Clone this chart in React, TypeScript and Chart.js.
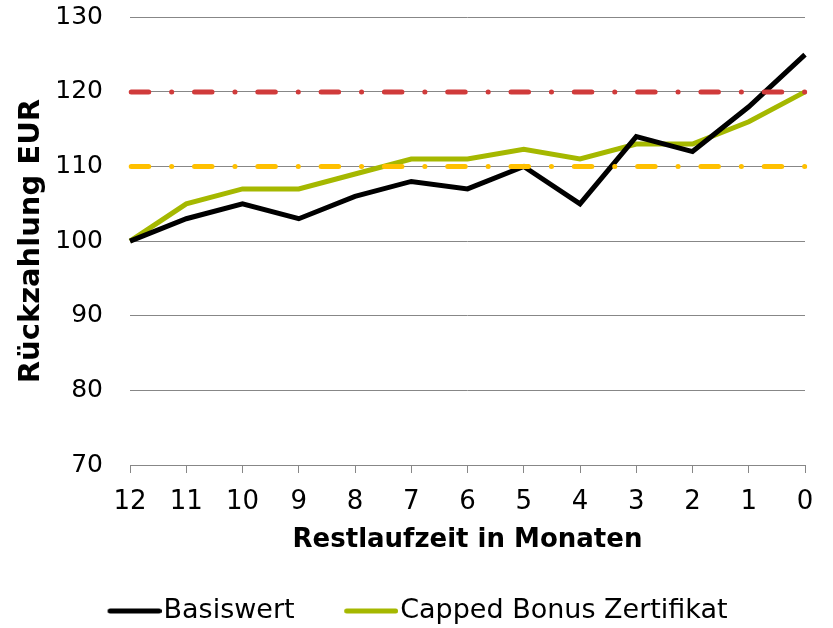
import React, { useEffect, useRef } from 'react';
import { Chart, registerables } from 'chart.js';

Chart.register(...registerables);

const categories = ['12', '11', '10', '9', '8', '7', '6', '5', '4', '3', '2', '1', '0'];
const basiswert = [100, 103, 105, 103, 106, 108, 107, 110, 105, 114, 112, 118, 125];
const bonusZertifikat = [100, 105, 107, 107, 109, 111, 111, 112.3, 111, 113, 113, 116, 120];
const capLevel = [120, 120, 120, 120, 120, 120, 120, 120, 120, 120, 120, 120, 120];
const barrierLevel = [110, 110, 110, 110, 110, 110, 110, 110, 110, 110, 110, 110, 110];
const yMin = 70;
const yMax = 130;
const yStep = 10;

const FONT = "'DejaVu Sans', Verdana, sans-serif";
const GRID = '#878787';
const SAMPLE_BOX = 57;

function makeSample(color: string): HTMLCanvasElement {
  const c = document.createElement('canvas');
  const w = SAMPLE_BOX + 23;
  c.width = w;
  c.height = 6;
  const ctx = c.getContext('2d')!;
  ctx.strokeStyle = color;
  ctx.lineWidth = 5;
  ctx.lineCap = 'round';
  ctx.beginPath();
  ctx.moveTo(w - 54 + 2.5, 3);
  ctx.lineTo(w - 2.5, 3);
  ctx.stroke();
  return c;
}

export default function App() {
  const ref = useRef<HTMLCanvasElement | null>(null);

  useEffect(() => {
    document.body.style.margin = '0';
    const canvas = ref.current;
    if (!canvas) return;
    const dashPattern = [17.5, 22.9, 0.1, 22.8];
    const samples: Record<string, HTMLCanvasElement> = {};
    const chart = new Chart(canvas, {
      type: 'line',
      data: {
        labels: categories,
        datasets: [
          {
            label: 'Cap',
            data: capLevel,
            borderColor: '#d03b3b',
            backgroundColor: '#d03b3b',
            borderWidth: 5,
            borderDash: dashPattern,
            borderDashOffset: -1.2,
            borderCapStyle: 'round',
            pointRadius: 0,
            tension: 0,
          },
          {
            label: 'Barriere',
            data: barrierLevel,
            borderColor: '#ffc000',
            backgroundColor: '#ffc000',
            borderWidth: 5,
            borderDash: dashPattern,
            borderDashOffset: -1.2,
            borderCapStyle: 'round',
            pointRadius: 0,
            tension: 0,
          },
          {
            label: 'Basiswert',
            data: basiswert,
            borderColor: '#000000',
            backgroundColor: '#000000',
            borderWidth: 5,
            pointRadius: 0,
            tension: 0,
          },
          {
            label: 'Capped Bonus Zertifikat',
            data: bonusZertifikat,
            borderColor: '#a5b800',
            backgroundColor: '#a5b800',
            borderWidth: 5,
            pointRadius: 0,
            tension: 0,
          },
        ],
      },
      options: {
        responsive: false,
        animation: false,
        layout: { padding: { left: 15.7, right: 28, top: 17, bottom: -6.5 } },
        plugins: {
          tooltip: { enabled: false },
          legend: {
            position: 'bottom',
            labels: {
              font: { family: FONT, size: 27 },
              color: '#000',
              usePointStyle: true,
              pointStyleWidth: SAMPLE_BOX,
              boxHeight: 6,
              padding: 35,
              generateLabels: (c: any) =>
                Chart.defaults.plugins.legend.labels
                  .generateLabels(c)
                  .filter((l: any) => l.datasetIndex >= 2)
                  .map((l: any) => {
                    const col = String(l.strokeStyle);
                    if (!samples[col]) samples[col] = makeSample(col);
                    return { ...l, pointStyle: samples[col], rotation: 0, lineWidth: 0 };
                  }),
            },
          },
        },
        scales: {
          x: {
            type: 'category',
            offset: false,
            grid: {
              drawOnChartArea: false,
              drawTicks: true,
              tickLength: 8,
              color: GRID,
              lineWidth: 1,
            },
            border: { display: true, color: GRID, width: 1 },
            ticks: {
              font: { family: FONT, size: 26 },
              color: '#000',
              padding: 13.4,
              maxRotation: 0,
              autoSkip: false,
            },
            title: {
              display: true,
              text: 'Restlaufzeit in Monaten',
              font: { family: FONT, size: 26, weight: 'bold' },
              color: '#000',
              padding: { top: -6.6, bottom: 6.9 },
            },
          },
          y: {
            min: yMin,
            max: yMax,
            grid: {
              drawTicks: true,
              tickLength: 11,
              tickColor: 'rgba(0,0,0,0)',
              color: GRID,
              lineWidth: 1,
            },
            border: { display: false },
            ticks: {
              stepSize: yStep,
              font: { family: FONT, size: 25, lineHeight: 0.1 },
              color: '#000',
              padding: 16,
            },
            title: {
              display: true,
              text: 'Rückzahlung EUR',
              font: { family: FONT, size: 29, weight: 'bold' },
              color: '#000',
              padding: { top: -2.1, bottom: -9.1 },
            },
          },
        },
      },
    } as any);
    return () => chart.destroy();
  }, []);

  return (
    <div style={{ width: 833, height: 628 }}>
      <canvas ref={ref} width={833} height={628} style={{ display: 'block' }} />
    </div>
  );
}
